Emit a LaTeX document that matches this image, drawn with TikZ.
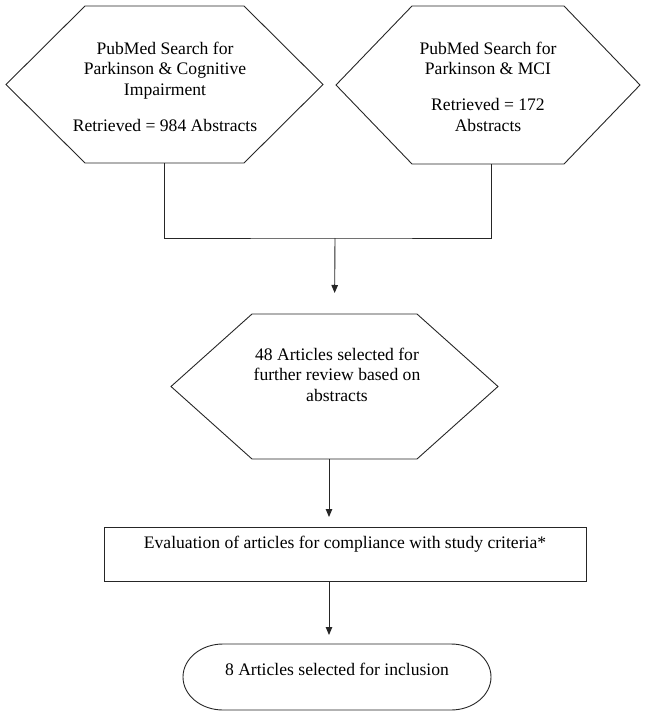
\documentclass[tikz,border=0pt]{standalone}
\usepackage{fontspec}
\setmainfont{Liberation Serif}
\usetikzlibrary{calc,arrows.meta}
\begin{document}
\begin{tikzpicture}[x=1pt,y=-1pt,
  frame/.style={draw=none,inner sep=0pt,outer sep=0pt},
  txt/.style={align=center,inner sep=0pt,font=\fontsize{17.6}{20.6}\selectfont},
  ln/.style={line width=0.9pt,draw=black!85},
  arr/.style={ln,-{Triangle[length=8pt,width=6.5pt]}}]
\useasboundingbox (0,0) rectangle (647,717);
\newcommand\hexdraw[2]{\draw[ln] ($(#1.north west)+(#2,0)$) -- ($(#1.north east)+(-#2,0)$) -- (#1.east) -- ($(#1.south east)+(-#2,0)$) -- ($(#1.south west)+(#2,0)$) -- (#1.west) -- cycle;}
% hexagons
\node[frame,minimum width=317pt,minimum height=157pt] (L) at (164.5,84.5) {};
\node[frame,minimum width=304pt,minimum height=158pt] (R) at (488,85) {};
\node[frame,minimum width=327pt,minimum height=145pt] (M) at (334.5,386.5) {};
\hexdraw{L}{79}
\hexdraw{R}{76}
\hexdraw{M}{81}
% rectangle and terminal
\node[frame,draw,ln,minimum width=482pt,minimum height=54pt] (E) at (345,554) {};
\node[frame,minimum width=308pt,minimum height=66pt] (S) at (337,677) {};
\draw[ln] ($(S.north west)+(40,0)$) -- ($(S.north east)+(-40,0)$)
  arc[start angle=90,end angle=-90,x radius=40pt,y radius=33pt]
  -- ($(S.south west)+(40,0)$)
  arc[start angle=270,end angle=90,x radius=40pt,y radius=33pt] -- cycle;
% texts
\node[txt] (Lt) at (165,86.5) {PubMed Search for\\Parkinson \& Cognitive\\Impairment\\[15pt]Retrieved = 984 Abstracts};
\node[txt] (Rt) at (488,86.5) {PubMed Search for\\Parkinson \& MCI\\[15pt]Retrieved = 172\\Abstracts};
\node[txt] (Mt) at (337,374.5) {48 Articles selected for\\further review based on\\abstracts};
\node[txt] (Et) at (345,544) {Evaluation of articles for compliance with study criteria*};
\node[txt] (St) at (337,669) {8 Articles selected for inclusion};
% connectors
\coordinate (J) at (335,238);
\draw[ln] (L.south) |- (J) -| ([xshift=3pt]R.south);
\draw[arr,shorten >=21pt] (J) -- (M.north);
\draw[arr,shorten >=10pt] ([xshift=-5.5pt]M.south) -- ([xshift=-16pt]E.north);
\draw[arr,shorten >=9pt] ([xshift=-16pt]E.south) -- ([xshift=-8pt]S.north);
\end{tikzpicture}
\end{document}
